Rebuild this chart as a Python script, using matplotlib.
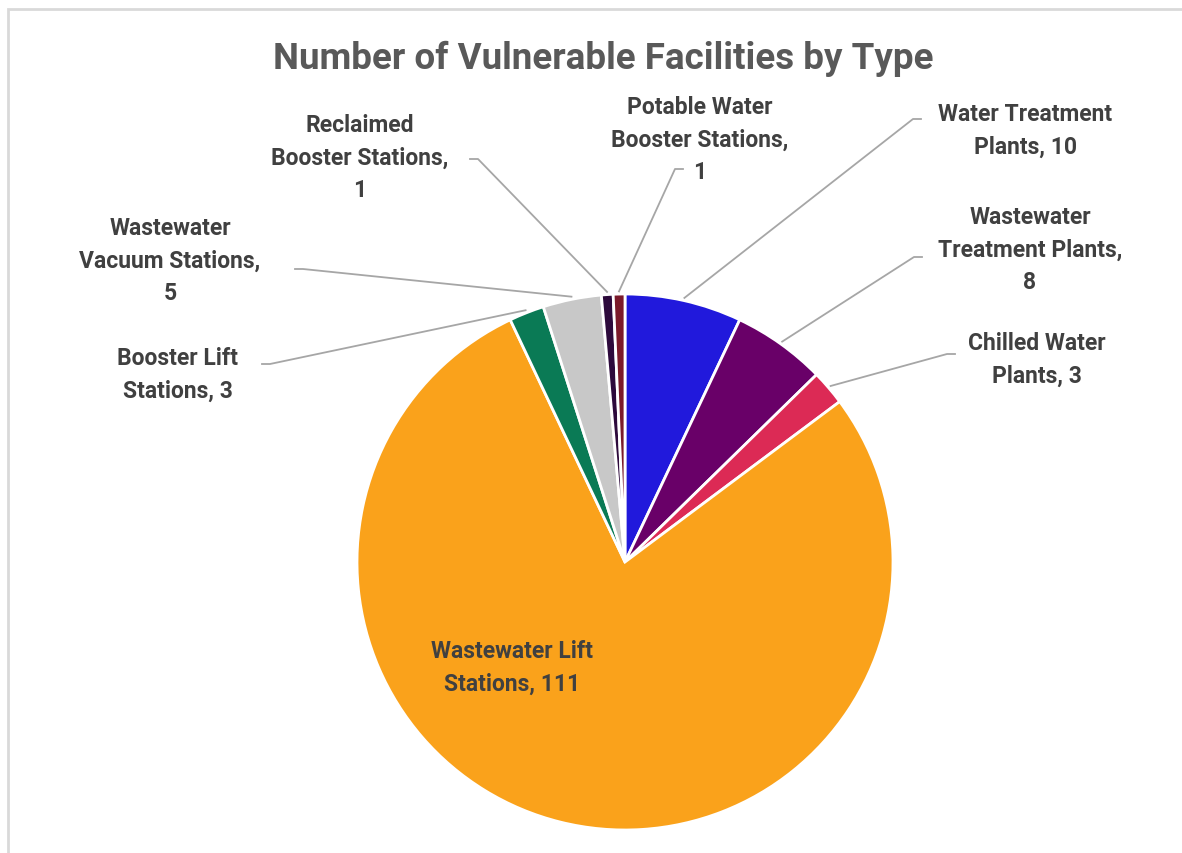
import matplotlib
matplotlib.use('Agg')
import matplotlib.pyplot as plt
import numpy as np

plt.rcParams['font.family'] = ['Roboto', 'DejaVu Sans']

# Facility counts, in clockwise order from 12 o'clock
names = ['Water Treatment\nPlants', 'Wastewater\nTreatment Plants,\n', 'Chilled Water\nPlants',
         'Wastewater Lift\nStations', 'Booster Lift\nStations', 'Wastewater\nVacuum Stations,\n',
         'Reclaimed\nBooster Stations,\n', 'Potable Water\nBooster Stations,\n']
counts = [10, 8, 3, 111, 3, 5, 1, 1]
colors = ['#2119DC', '#690068', '#DC2A55', '#FAA21B', '#0A7A55', '#C8C8C8', '#2D0A3C', '#7B1A2B']

# label centre and leader-line start, in pixels (x, y from top)
label_xy = [(1025, 131), (1030, 250), (1037, 360), (512, 668),
            (178, 375), (170, 261), (360, 158), (700, 140)]
leader_xy = [(921, 120), (922, 258), (955, 355), None,
             (262, 365), (295, 270), (470, 160), (683, 170)]

W, H = 1182, 854
cx, cy, R = 625, 563, 268

fig = plt.figure(figsize=(W / 100, H / 100), dpi=100)
fig.patch.set_facecolor('white')

# light chart frame
fig.add_artist(plt.Rectangle((8 / W, -0.01), 1.0, 1 - 10 / H + 0.01, transform=fig.transFigure,
                             fill=False, edgecolor='#d9d9d9', linewidth=2))

ax = fig.add_axes([(cx - R) / W, (H - cy - R) / H, 2 * R / W, 2 * R / H])
wedges, _ = ax.pie(counts, colors=colors, startangle=90, counterclock=False, radius=1,
                   wedgeprops=dict(edgecolor='white', linewidth=2))
ax.set_xlim(-1, 1)
ax.set_ylim(-1, 1)
ax.set_aspect('equal')
ax.axis('off')


def to_data(px, py):
    return (px - cx) / R, (cy - py) / R


for w, name, n, lxy, sxy in zip(wedges, names, counts, label_xy, leader_xy):
    sep = '' if name.endswith('\n') else ', '
    text = f'{name}{sep}{n}'
    tx, ty = to_data(*lxy)
    ax.text(tx, ty, text, ha='center', va='center', fontsize=16.5, fontweight='bold',
            color='#404040', linespacing=1.55, clip_on=False)
    if sxy is None:
        continue
    mid = np.deg2rad((w.theta1 + w.theta2) / 2)
    ex, ey = 1.01 * np.cos(mid), 1.01 * np.sin(mid)
    sx, sy = to_data(*sxy)
    hx = sx + (8 / R if sx < ex else -8 / R)
    ax.plot([sx, hx, ex], [sy, sy, ey], color='#a6a6a6', linewidth=1.3, clip_on=False)

fig.text(603 / W, 1 - 59 / H, 'Number of Vulnerable Facilities by Type', ha='center', va='center',
         fontsize=26.5, fontweight='bold', color='#595959')

fig.savefig('out.png', dpi=100)
